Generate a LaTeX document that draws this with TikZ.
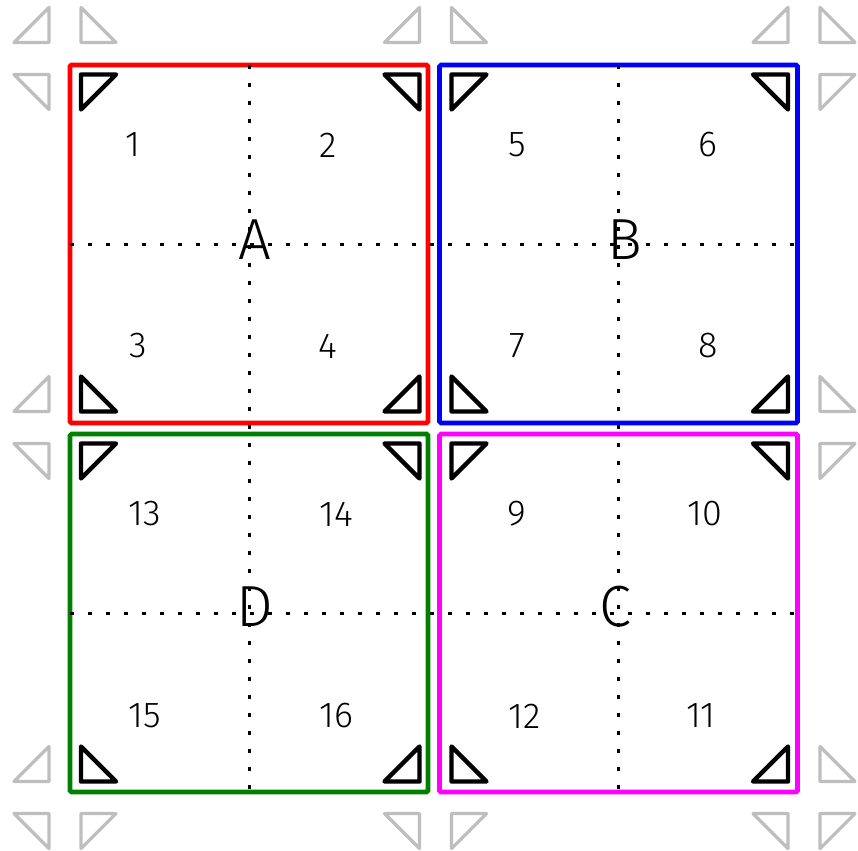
\documentclass[tikz,border=0pt]{standalone}
\usepackage{fontspec}
\setmainfont{Fira Sans Light}
\begin{document}
\begin{tikzpicture}[x=1pt,y=-1pt,
  sq/.style={draw, line width=4.6pt, rounded corners=1.5pt, minimum width=358pt, minimum height=358pt, inner sep=0pt, outer sep=0pt},
  blacktri/.style={draw=black, line width=4.4pt, line join=round, line cap=round},
  graytri/.style={draw=lgray, line width=3.2pt, line join=round, line cap=round},
  grid/.style={line width=3pt, dash pattern=on 4pt off 14pt},
  num/.style={font=\fontsize{36}{36}\selectfont, inner sep=0pt},
  big/.style={font=\fontsize{58}{58}\selectfont, inner sep=0pt}]
\definecolor{lgray}{RGB}{190,190,190}
\definecolor{dgreen}{RGB}{0,128,0}
\definecolor{pmag}{RGB}{255,0,255}
\definecolor{pred}{RGB}{255,0,0}
\definecolor{pblue}{RGB}{0,0,255}
\useasboundingbox (0,0) rectangle (858,850);
% squares
\node[sq, draw=pred] (sqA) at (249,244) {};
\node[sq, draw=pblue] (sqB) at (618.5,244) {};
\node[sq, draw=dgreen] (sqD) at (249,613) {};
\node[sq, draw=pmag] (sqC) at (618.5,613) {};
% dotted grid
\draw[grid] (sqA.west) -- (sqB.east);
\draw[grid] (sqD.west) -- (sqC.east);
\draw[grid] (sqA.north) -- (sqD.south);
\draw[grid] (sqB.north) -- (sqC.south);
% triangles
\foreach \i/\cx in {0/65,1/435.5,2/804}
 \foreach \j/\cy in {0/58.5,1/427.5,2/797.5}
  \foreach \sx in {-1,1}
   \foreach \sy in {-1,1} {
     \pgfmathtruncatemacro\inx{(\i==1)||(\i==0 && \sx==1)||(\i==2 && \sx==-1)}
     \pgfmathtruncatemacro\iny{(\j==1)||(\j==0 && \sy==1)||(\j==2 && \sy==-1)}
     \pgfmathtruncatemacro\ok{\inx*\iny}
     \ifnum\ok=1
       \draw[blacktri] ({\cx+16*\sx},{\cy+16*\sy}) -- ++({35*\sx},0) -- ({\cx+16*\sx},{\cy+51*\sy}) -- cycle;
     \else
       \draw[graytri] ({\cx+16*\sx},{\cy+16*\sy}) -- ++({35*\sx},0) -- ({\cx+16*\sx},{\cy+51*\sy}) -- cycle;
     \fi
   }
% big letters
\node[big] (lA) at (255,240) {A};
\node[big] (lB) at (625,240) {B};
\node[big] (lD) at (255,607) {D};
\node[big] (lC) at (615,607) {C};
% numbers
\node[num] (n1) at (133,145) {1};
\node[num] (n2) at (328,145) {2};
\node[num] (n3) at (138,346) {3};
\node[num] (n4) at (328,346) {4};
\node[num] (n5) at (517,145) {5};
\node[num] (n6) at (708,145) {6};
\node[num] (n7) at (517,346) {7};
\node[num] (n8) at (708,346) {8};
\node[num] (n13) at (145,514) {13};
\node[num] (n14) at (336,514) {14};
\node[num] (n9) at (517,514) {9};
\node[num] (n10) at (705,514) {10};
\node[num] (n15) at (145,716) {15};
\node[num] (n16) at (336,716) {16};
\node[num] (n12) at (525,716) {12};
\node[num] (n11) at (701,716) {11};
\end{tikzpicture}
\end{document}
